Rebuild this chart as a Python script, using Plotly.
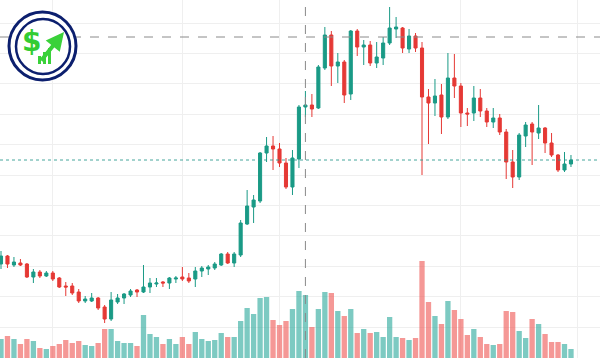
import plotly.graph_objects as go

# ---- data ----
idx = list(range(89))

opens = [136, 144, 135, 137, 136, 123, 128, 124, 127, 122,
         114, 114, 108, 99, 99, 102, 93, 81, 98, 102,
         105, 110, 108, 113, 116, 118, 117, 121, 123, 122,
         121, 129, 131, 132, 135, 146, 137, 145, 176, 193,
         199, 247, 254, 251, 237, 213, 241, 293, 295, 292,
         332, 365, 334, 338, 306, 369, 353, 355, 337, 342,
         357, 371, 372, 351, 364, 352, 303, 297, 305, 283,
         322, 314, 287, 287, 302, 289, 278, 282, 268, 238,
         223, 264, 276, 267, 272, 257, 245, 230, 236]
highs = [149, 145, 143, 141, 137, 131, 130, 129, 129, 123,
         118, 117, 111, 104, 107, 103, 95, 108, 106, 107,
         111, 111, 135, 122, 122, 119, 123, 124, 133, 127,
         133, 134, 135, 138, 147, 148, 148, 180, 210, 205,
         248, 263, 264, 257, 242, 250, 295, 309, 306, 335,
         373, 369, 347, 340, 370, 371, 360, 359, 358, 363,
         393, 383, 373, 371, 367, 358, 311, 321, 316, 347,
         346, 317, 292, 314, 311, 292, 292, 286, 271, 250,
         267, 278, 278, 295, 273, 267, 246, 248, 245]
lows = [131, 132, 133, 134, 122, 117, 122, 123, 119, 112,
        104, 105, 97, 97, 98, 90, 77, 79, 96, 96,
        103, 103, 107, 107, 113, 113, 111, 117, 119, 117,
        113, 123, 125, 130, 134, 136, 133, 143, 175, 177,
        197, 238, 230, 233, 211, 205, 232, 283, 283, 291,
        330, 314, 317, 297, 300, 344, 335, 334, 332, 335,
        355, 362, 347, 347, 348, 225, 256, 284, 266, 281,
        302, 273, 274, 279, 283, 273, 272, 265, 221, 212,
        220, 253, 235, 261, 247, 243, 228, 228, 233]
closes = [144, 136, 138, 135, 123, 128, 124, 127, 121, 113,
          113, 107, 99, 101, 102, 92, 81, 100, 102, 106,
          109, 108, 113, 117, 117, 117, 122, 122, 121, 119,
          129, 132, 133, 136, 146, 137, 146, 177, 194, 200,
          247, 254, 251, 237, 213, 242, 293, 295, 291, 333,
          365, 334, 338, 305, 369, 353, 355, 337, 343, 357,
          372, 373, 352, 364, 352, 303, 297, 304, 283, 322,
          314, 287, 286, 302, 289, 278, 282, 268, 238, 223,
          265, 275, 268, 272, 257, 245, 230, 236, 240]
volumes = [19000, 22000, 19000, 14000, 19000, 17000, 10000, 9000, 12000, 14000,
           18000, 15000, 17000, 13000, 12000, 15000, 29000, 29000, 17000, 15000,
           15000, 12000, 43000, 24000, 21000, 14000, 19000, 14000, 21000, 14000,
           26000, 19000, 17000, 18000, 25000, 21000, 21000, 37000, 50000, 44000,
           60000, 61000, 38000, 33000, 37000, 49000, 67000, 63000, 31000, 49000,
           66000, 65000, 47000, 42000, 49000, 25000, 29000, 25000, 26000, 21000,
           41000, 21000, 20000, 18000, 20000, 97000, 56000, 42000, 34000, 57000,
           48000, 39000, 23000, 29000, 21000, 14000, 13000, 14000, 47000, 46000,
           27000, 20000, 39000, 34000, 24000, 16000, 16000, 14000, 9000]
time_ticks = [8, 28, 43, 71, 89]
crosshair_index = 47
crosshair_price = 363

UP = "#1a9a86"
DOWN = "#e53935"
UP_VOL = "rgba(38,166,154,0.6)"
DOWN_VOL = "rgba(239,83,80,0.6)"

vol_colors = [UP_VOL if c >= o else DOWN_VOL for o, c in zip(opens, closes)]

fig = go.Figure()
fig.add_trace(go.Candlestick(
    x=idx, open=opens, high=highs, low=lows, close=closes,
    increasing=dict(line=dict(color=UP, width=1), fillcolor=UP),
    decreasing=dict(line=dict(color=DOWN, width=1), fillcolor=DOWN),
    whiskerwidth=0, yaxis="y", hoverinfo="skip", showlegend=False,
))
fig.add_trace(go.Bar(
    x=idx, y=volumes, marker=dict(color=vol_colors, line=dict(width=0)),
    width=0.82, yaxis="y2", hoverinfo="skip", showlegend=False,
))

grid = "#efefef"
fig.update_layout(
    width=600, height=358,
    margin=dict(l=0, r=0, t=0, b=0),
    paper_bgcolor="white", plot_bgcolor="white",
    boxgap=0.32,
    xaxis=dict(range=[-0.154, 92.48], tickvals=time_ticks, showticklabels=False,
               showgrid=True, gridcolor=grid, gridwidth=1, zeroline=False,
               showline=False, ticks="", rangeslider=dict(visible=False), fixedrange=True),
    yaxis=dict(range=[42, 400], tick0=73, dtick=30.4, showticklabels=False,
               showgrid=True, gridcolor=grid, gridwidth=1, zeroline=False,
               showline=False, ticks="", fixedrange=True),
    yaxis2=dict(range=[0, 358000], overlaying="y", visible=False, showgrid=False,
                fixedrange=True),
    showlegend=False,
)

# crosshair
fig.add_shape(type="line", xref="x", yref="paper", x0=crosshair_index, x1=crosshair_index,
              y0=0, y1=1, line=dict(color="#8a8a8a", width=1, dash="dash"), layer="above")
fig.add_shape(type="line", xref="paper", yref="y", x0=0, x1=1,
              y0=crosshair_price, y1=crosshair_price,
              line=dict(color="#8a8a8a", width=1, dash="dash"), layer="above")
# last price line
fig.add_shape(type="line", xref="paper", yref="y", x0=0, x1=1,
              y0=closes[-1], y1=closes[-1],
              line=dict(color="rgba(38,150,140,0.85)", width=1, dash="dot"), layer="above")

# logo (decoration)
W, H = 600.0, 358.0
def px(x):
    return x / W
def py(y):
    return 1 - y / H
fig.add_shape(type="circle", xref="paper", yref="paper",
              x0=px(9), x1=px(76), y0=py(80), y1=py(12),
              line=dict(color="#0c1f6e", width=3), fillcolor="white", layer="above")
fig.add_shape(type="circle", xref="paper", yref="paper",
              x0=px(16), x1=px(70), y0=py(74), y1=py(19),
              line=dict(color="#0c1f6e", width=2.5), layer="above")
for bx, top in [(38, 56), (43, 52), (48, 48)]:
    fig.add_shape(type="rect", xref="paper", yref="paper",
                  x0=px(bx), x1=px(bx + 3), y0=py(64), y1=py(top),
                  line=dict(width=0), fillcolor="#3ad13a", layer="above")
fig.add_annotation(xref="paper", yref="paper", x=px(64), y=py(32), ax=-24, ay=30,
                   text="", showarrow=True, arrowhead=2, arrowsize=0.9,
                   arrowwidth=4, arrowcolor="#3ad13a")
fig.add_annotation(xref="paper", yref="paper", x=px(31), y=py(41), text="<b>$</b>",
                   xanchor="center", yanchor="middle",
                   showarrow=False, font=dict(family="DejaVu Sans", size=28, color="#33cc33"))

fig.write_html("out.html", config=dict(displayModeBar=False, staticPlot=True),
               post_script="document.body.style.margin='0';document.body.style.padding='0';")
